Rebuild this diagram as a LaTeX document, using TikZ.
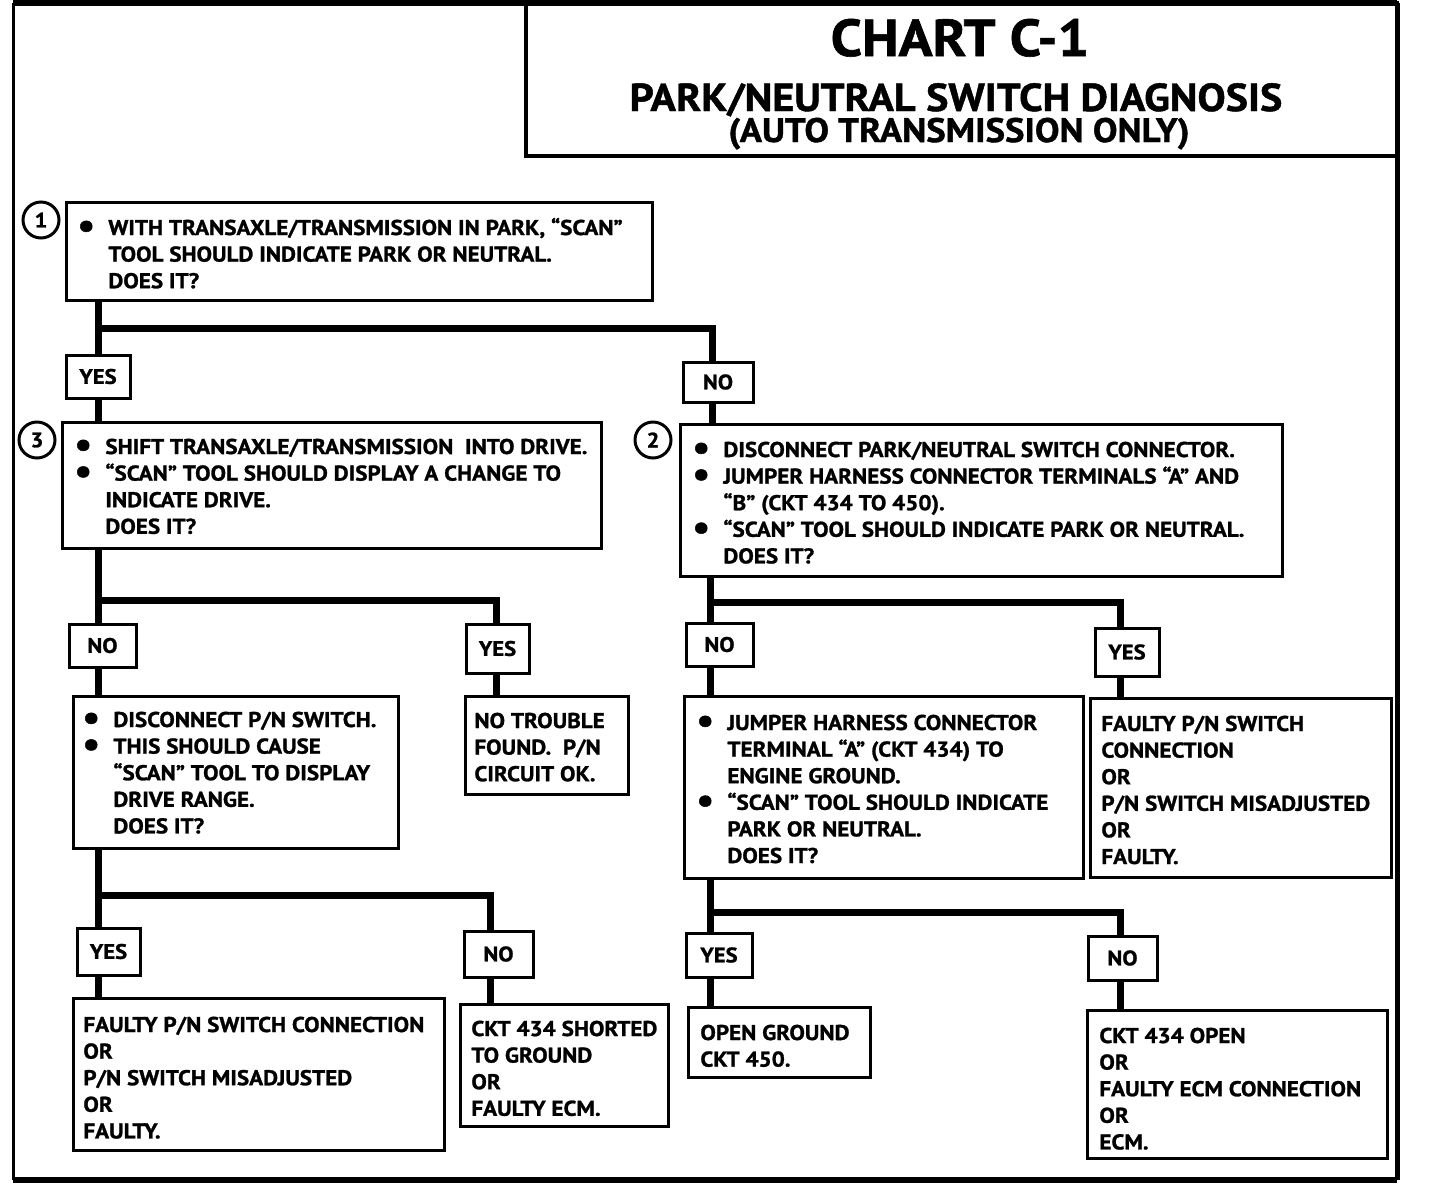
\documentclass[tikz,border=0pt]{standalone}
\usepackage{fontspec}
\setmainfont{PT Sans}
\newfontfamily\heavy{PT Sans Bold}[FakeBold=1.2,FakeStretch=1.08]
\usetikzlibrary{fit}
\newcommand\Bu{\makebox[15.5pt][l]{\smash{\raisebox{-0.25ex}{\scalebox{1.7}{\textbullet}}}}}
\newcommand\In{\hspace*{15.5pt}}
\newcommand\bodyf{\fontsize{10.7}{13.3}\selectfont\heavy}
\newcommand\labf{\fontsize{10.5}{12}\selectfont\heavy}
\begin{document}
\begin{tikzpicture}[x=0.5pt,y=-0.5pt,
  box/.style={draw, line width=1.5pt, inner sep=0pt, rectangle},
  lab/.style={draw, line width=1.5pt, inner sep=0pt, rectangle},
  conn/.style={line width=3.5pt},
  txt/.style={anchor=base west, inner sep=0pt, font=\bodyf},
  num/.style={draw, circle, line width=1.5pt, minimum size=18pt, inner sep=0pt, font=\fontsize{10.5}{12}\selectfont\heavy},
  ttl/.style={anchor=base, inner sep=0pt}
]
\useasboundingbox (0,0) rectangle (1440,1184);
% outer frame
\draw[line width=1.5pt] (13,3) -- (13,1180);
\draw[line width=3pt] (13,3) -- (1397,3);
\draw[line width=2.5pt] (1397,3) -- (1397,1180);
\draw[line width=3pt] (13,1180) -- (1397,1180);
% title box
\node[box, line width=2pt, fit={(526,3)(1397,156)}] (title) {};
\node[ttl, font=\fontsize{26}{30}\selectfont\heavy] (t0a) at (960,56) {CHART C-1};
\node[ttl, font=\fontsize{19.5}{22}\selectfont\heavy] (t0b) at (956,111) {PARK/NEUTRAL SWITCH DIAGNOSIS};
\node[ttl, font=\fontsize{17}{22}\selectfont\heavy] (t0c) at (959,142) {(AUTO TRANSMISSION ONLY)};

% content boxes
\node[box, fit={(66,202)(652,300)}] (b1) {};
\node[box, fit={(62,422)(601,548)}] (b3) {};
\node[box, fit={(680,424)(1282,576)}] (b2) {};
\node[box, fit={(73,696)(398,848)}] (b4) {};
\node[box, fit={(465,696)(628,794)}] (b5) {};
\node[box, fit={(684,696)(1083,878)}] (b6) {};
\node[box, fit={(1090,698)(1391,877)}] (b7) {};
\node[box, fit={(73,998)(444,1150)}] (b8) {};
\node[box, fit={(460,1004)(668,1126)}] (b9) {};
\node[box, fit={(688,1007)(870,1077)}] (b10) {};
\node[box, fit={(1087,1010)(1387,1158)}] (b11) {};

% step numbers
\node[num] (c1) at (41,220) {1};
\node[num] (c3) at (37,440) {3};
\node[num] (c2) at (653,440) {2};

% yes/no labels
\node[lab, fit={(66,355)(130,398)}, label={[font=\labf]center:YES}] (y1) {};
\node[lab, fit={(683,362)(753,402)}, label={[font=\labf]center:NO}] (n1) {};
\node[lab, fit={(69,624)(136,667)}, label={[font=\labf]center:NO}] (n3) {};
\node[lab, fit={(466,624)(529,673)}, label={[font=\labf]center:YES}] (y3) {};
\node[lab, fit={(686,623)(753,666)}, label={[font=\labf]center:NO}] (n2) {};
\node[lab, fit={(1095,628)(1159,676)}, label={[font=\labf]center:YES}] (y2) {};
\node[lab, fit={(77,928)(140,975)}, label={[font=\labf]center:YES}] (y4) {};
\node[lab, fit={(464,931)(533,977)}, label={[font=\labf]center:NO}] (n4) {};
\node[lab, fit={(686,933)(752,977)}, label={[font=\labf]center:YES}] (y5) {};
\node[lab, fit={(1088,936)(1157,980)}, label={[font=\labf]center:NO}] (n5) {};

% junctions
\coordinate (jA) at (98,328);  \coordinate (jA2) at (712,328);
\coordinate (jB) at (98,600);  \coordinate (jB2) at (496,600);
\coordinate (jC) at (98,895);  \coordinate (jC2) at (490,895);
\coordinate (jD) at (710,602); \coordinate (jD2) at (1120,602);
\coordinate (jE) at (710,912); \coordinate (jE2) at (1120,912);

% connectors
\draw[conn] (b1.south -| jA) -- (y1.north -| jA);
\draw[conn] (jA) -- (jA2) -- (n1.north -| jA2);
\draw[conn] (y1.south -| jA) -- (b3.north -| jA);
\draw[conn] (n1.south -| jA2) -- (b2.north -| jA2);

\draw[conn] (b3.south -| jB) -- (n3.north -| jB);
\draw[conn] (jB) -- (jB2) -- (y3.north -| jB2);
\draw[conn] (n3.south -| jB) -- (b4.north -| jB);
\draw[conn] (y3.south -| jB2) -- (b5.north -| jB2);

\draw[conn] (b4.south -| jC) -- (y4.north -| jC);
\draw[conn] (jC) -- (jC2) -- (n4.north -| jC2);
\draw[conn] (y4.south -| jC) -- (b8.north -| jC);
\draw[conn] (n4.south -| jC2) -- (b9.north -| jC2);

\draw[conn] (b2.south -| jD) -- (n2.north -| jD);
\draw[conn] (jD) -- (jD2) -- (y2.north -| jD2);
\draw[conn] (n2.south -| jD) -- (b6.north -| jD);
\draw[conn] (y2.south -| jD2) -- (b7.north -| jD2);

\draw[conn] (b6.south -| jE) -- (y5.north -| jE);
\draw[conn] (jE) -- (jE2) -- (n5.north -| jE2);
\draw[conn] (y5.south -| jE) -- (b10.north -| jE);
\draw[conn] (n5.south -| jE2) -- (b11.north -| jE2);

% texts
\node[txt] (t1) at (77,235) {\begin{tabular}[t]{@{}l@{}}
\Bu WITH TRANSAXLE/TRANSMISSION IN PARK, “SCAN”\\
\In TOOL SHOULD INDICATE PARK OR NEUTRAL.\\
\In DOES IT?\end{tabular}};
\node[txt] (t3) at (74,454) {\begin{tabular}[t]{@{}l@{}}
\Bu SHIFT TRANSAXLE/TRANSMISSION\ \ INTO DRIVE.\\
\Bu “SCAN” TOOL SHOULD DISPLAY A CHANGE TO\\
\In INDICATE DRIVE.\\
\In DOES IT?\end{tabular}};
\node[txt] (t2) at (692,457) {\begin{tabular}[t]{@{}l@{}}
\Bu DISCONNECT PARK/NEUTRAL SWITCH CONNECTOR.\\
\Bu JUMPER HARNESS CONNECTOR TERMINALS “A” AND\\
\In “B” (CKT 434 TO 450).\\
\Bu “SCAN” TOOL SHOULD INDICATE PARK OR NEUTRAL.\\
\In DOES IT?\end{tabular}};
\node[txt] (t4) at (82,727) {\begin{tabular}[t]{@{}l@{}}
\Bu DISCONNECT P/N SWITCH.\\
\Bu THIS SHOULD CAUSE\\
\In “SCAN” TOOL TO DISPLAY\\
\In DRIVE RANGE.\\
\In DOES IT?\end{tabular}};
\node[txt] (t5) at (474,728) {\begin{tabular}[t]{@{}l@{}}
NO TROUBLE\\
FOUND.\ \ P/N\\
CIRCUIT OK.\end{tabular}};
\node[txt] (t6) at (696,730) {\begin{tabular}[t]{@{}l@{}}
\Bu JUMPER HARNESS CONNECTOR\\
\In TERMINAL “A” (CKT 434) TO\\
\In ENGINE GROUND.\\
\Bu “SCAN” TOOL SHOULD INDICATE\\
\In PARK OR NEUTRAL.\\
\In DOES IT?\end{tabular}};
\node[txt] (t7) at (1101,731) {\begin{tabular}[t]{@{}l@{}}
FAULTY P/N SWITCH\\
CONNECTION\\
OR\\
P/N SWITCH MISADJUSTED\\
OR\\
FAULTY.\end{tabular}};
\node[txt] (t8) at (83,1032) {\begin{tabular}[t]{@{}l@{}}
FAULTY P/N SWITCH CONNECTION\\
OR\\
P/N SWITCH MISADJUSTED\\
OR\\
FAULTY.\end{tabular}};
\node[txt] (t9) at (471,1036) {\begin{tabular}[t]{@{}l@{}}
CKT 434 SHORTED\\
TO GROUND\\
OR\\
FAULTY ECM.\end{tabular}};
\node[txt] (t10) at (700,1040) {\begin{tabular}[t]{@{}l@{}}
OPEN GROUND\\
CKT 450.\end{tabular}};
\node[txt] (t11) at (1099,1043) {\begin{tabular}[t]{@{}l@{}}
CKT 434 OPEN\\
OR\\
FAULTY ECM CONNECTION\\
OR\\
ECM.\end{tabular}};
\end{tikzpicture}
\end{document}
